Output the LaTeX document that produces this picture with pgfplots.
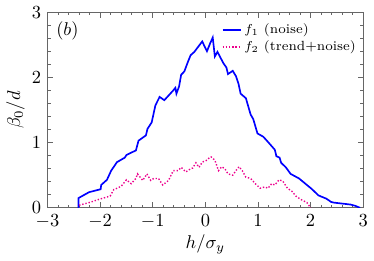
\documentclass[border=0pt]{standalone}
\usepackage{pgfplots}
\pgfplotsset{compat=1.18}
\begin{document}
\begin{tikzpicture}
\begin{axis}[
  scale only axis,
  width=171pt, height=106pt,
  xmin=-3, xmax=3, ymin=0, ymax=3,
  xtick={-3,-2,-1,0,1,2,3}, ytick={0,1,2,3},
  minor tick num=4,
  tick align=inside,
  major tick length=3pt, minor tick length=1.7pt,
  axis line style={gray!80!black, line width=0.5pt},
  every tick/.style={gray!80!black, line width=0.4pt},
  xlabel={$h/\sigma_y$}, ylabel={$\beta_0/d$},
  xlabel style={yshift=3pt}, ylabel style={yshift=-3pt},
  legend style={draw=none, fill=none, at={(0.985,0.955)}, anchor=north east,
    font=\fontsize{7.2}{9.5}\selectfont, row sep=0pt, inner sep=0pt,
    nodes={inner sep=1.2pt}},
  legend cell align=left,
  legend image post style={xscale=0.6},
]
\addplot[blue, line width=0.9pt] coordinates {
(-2.41,0) (-2.41,0.15) (-2.21,0.24) (-1.99,0.285) (-1.98,0.35) (-1.87,0.43) (-1.79,0.57)
(-1.68,0.70) (-1.53,0.77) (-1.50,0.81) (-1.32,0.88) (-1.27,1.03) (-1.13,1.11) (-1.10,1.21)
(-1.02,1.31) (-0.95,1.57) (-0.87,1.70) (-0.78,1.65) (-0.61,1.80) (-0.57,1.84) (-0.55,1.75)
(-0.50,1.86) (-0.46,2.04) (-0.40,2.09) (-0.34,2.22) (-0.28,2.34) (-0.21,2.39) (-0.06,2.55)
(0.03,2.40) (0.09,2.52) (0.14,2.61) (0.18,2.32) (0.23,2.39) (0.34,2.22) (0.40,2.15)
(0.43,2.05) (0.52,2.10) (0.58,2.02) (0.63,1.90) (0.67,1.75) (0.77,1.68) (0.86,1.43)
(0.91,1.36) (0.99,1.14) (1.10,1.09) (1.19,1.01) (1.32,0.89) (1.35,0.79) (1.41,0.77)
(1.44,0.69) (1.53,0.62) (1.62,0.52) (1.78,0.45) (1.90,0.37) (2.02,0.29) (2.15,0.19)
(2.30,0.14) (2.39,0.09) (2.44,0.08) (2.76,0.05) (2.85,0.03) (2.94,0)
};
\addlegendentry{$f_1$ (noise)}
\addplot[magenta, densely dotted, line width=0.75pt] coordinates {
(-2.40,0.04) (-2.21,0.08) (-2.02,0.13) (-1.81,0.18) (-1.74,0.28) (-1.68,0.30) (-1.60,0.33)
(-1.50,0.43) (-1.41,0.37) (-1.32,0.45) (-1.29,0.52) (-1.19,0.42) (-1.11,0.52) (-1.04,0.42)
(-0.98,0.45) (-0.89,0.45) (-0.81,0.35) (-0.70,0.42) (-0.61,0.57) (-0.52,0.57) (-0.46,0.62)
(-0.37,0.55) (-0.28,0.60) (-0.24,0.61) (-0.18,0.69) (-0.12,0.62) (-0.06,0.70) (0.03,0.73)
(0.09,0.78) (0.11,0.78) (0.18,0.73) (0.25,0.57) (0.31,0.63) (0.37,0.60) (0.43,0.52)
(0.52,0.50) (0.58,0.57) (0.64,0.63) (0.70,0.57) (0.77,0.47) (0.86,0.45) (0.95,0.37)
(1.04,0.30) (1.13,0.32) (1.19,0.30) (1.26,0.37) (1.32,0.35) (1.40,0.43) (1.47,0.41)
(1.56,0.30) (1.65,0.25) (1.72,0.18) (1.81,0.13) (1.93,0.08) (2.00,0.0)
};
\addlegendentry{$f_2$ (trend+noise)}
\node at (axis description cs:0.063,0.905) {$(b)$};
\end{axis}
\end{tikzpicture}
\end{document}
